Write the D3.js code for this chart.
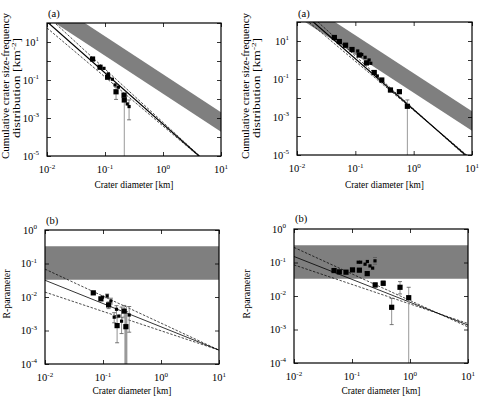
<!DOCTYPE html>
<html>
<head>
<meta charset="utf-8">
<script src="https://cdn.jsdelivr.net/npm/d3@7"></script>
<style>
  body { margin: 0; background: #fff; }
  text { font-family: "Liberation Serif", "Times New Roman", serif; fill: #000; }
</style>
</head>
<body>
<div id="wrapper"></div>
<script>
// ---- values ----
const xTickValues = [1e-2, 1e-1, 1e0, 1e1]
const cumTickValues = [1e2, 1e1, 1e0, 1e-1, 1e-2, 1e-3, 1e-4, 1e-5]
const cumTickLabels = [1e1, 1e-1, 1e-3, 1e-5]
const rTickValues = [1e0, 1e-1, 1e-2, 1e-3, 1e-4]

// saturation band, [D, low, high]
const bandCum = [[0.01, 190, 2000], [10, 1.9e-4, 2e-3]]
const bandR = [[0.01, 0.033, 0.33], [10, 0.033, 0.33]]

// fitted power laws, end points [D, value]
const leftCumFit = [[0.01, 117], [10, 9.65e-7]]
const leftCumFitHi = [[0.01, 241], [10, 9.26e-7]]
const leftCumFitLo = [[0.01, 54.6], [10, 1.0e-6]]
const rightCumFit = [[0.01, 564], [10, 5.04e-6]]
const rightCumFitHi = [[0.01, 1008], [10, 4.27e-6]]
const rightCumFitLo = [[0.01, 328], [10, 5.85e-6]]
const leftRFit = [[0.01, 0.0316], [10, 2.6e-4]]
const leftRFitHi = [[0.01, 0.068], [10, 2.6e-4]]
const leftRFitLo = [[0.01, 0.014], [10, 2.6e-4]]
const rightRFit = [[0.01, 0.151], [10, 1.35e-3]]
const rightRFitHi = [[0.01, 0.282], [10, 1.19e-3]]
const rightRFitLo = [[0.01, 0.0849], [10, 1.51e-3]]

// crater data [D km, value, low, high]  (low 0 = bar runs to axis)
const leftCumLarge = [
    [0.061, 1.27], [0.082, 0.47], [0.111, 0.14],
    [0.155, 0.024, 0.0095, 0.042], [0.213, 0.016], [0.215, 0.0089, 0, null],
]
const leftCumSmall = [
    [0.096, 0.41], [0.114, 0.21], [0.134, 0.11], [0.149, 0.055],
    [0.17, 0.042], [0.242, 0.0055], [0.26, 0.004, 0.0008, 0.0089],
]
const rightCumLarge = [
    [0.0437, 15.3], [0.0532, 9.4], [0.068, 6.0], [0.0877, 3.57],
    [0.117, 1.83], [0.155, 0.70], [0.211, 0.22], [0.284, 0.0885],
    [0.40, 0.0264, 0.021, 0.032], [0.569, 0.0215], [0.78, 0.00366, 0, 0.0079],
]
const rightCumSmall = [
    [0.110, 2.98], [0.129, 1.95], [0.147, 1.39], [0.172, 1.0],
    [0.184, 0.67], [0.238, 0.144],
]
const leftRLarge = [
    [0.068, 0.0133], [0.092, 0.0088], [0.125, 0.0058, 0.0045, 0.0071],
    [0.175, 0.0014, 0.00043, 0.0028], [0.232, 0.0038, 0.0025, 0.0056],
    [0.248, 0.0013, 0, 0.0037],
]
const leftRSmall = [
    [0.098, 0.0099], [0.118, 0.0108, 0.0095, 0.0122], [0.137, 0.0076, 0.0062, 0.0092],
    [0.156, 0.0025, 0.0017, 0.0034], [0.171, 0.0043, 0.0024, 0.0055], [0.188, 0.0027],
    [0.209, 0.0019, 0.00081, 0.005], [0.283, 0.0029, 0.00089, 0.0052],
]
const rightRLarge = [
    [0.049, 0.0574], [0.0604, 0.0525], [0.0788, 0.0514], [0.102, 0.0602],
    [0.134, 0.059], [0.183, 0.0466], [0.251, 0.0214, 0.0185, 0.0245],
    [0.345, 0.024, 0.0205, 0.028], [0.483, 0.0046, 0.0014, 0.0085],
    [0.673, 0.0182, 0.0115, 0.0269], [0.95, 0.0089, 0, 0.0182],
]
const rightRSmall = [
    [0.128, 0.102], [0.141, 0.102], [0.168, 0.089], [0.184, 0.107],
    [0.204, 0.079], [0.227, 0.068], [0.249, 0.112, 0.089, 0.141],
]

// ---- drawing ----
const width = 480
const height = 403

const svg = d3.select("#wrapper")
    .append("svg")
    .attr("width", width)
    .attr("height", height)

const exponent = v => Math.round(Math.log10(v))

function drawPanel(p) {
    const w = p.right - p.left
    const h = p.bottom - p.top
    const g = svg.append("g").attr("transform", `translate(${p.left},${p.top})`)

    const x = d3.scaleLog().domain([1e-2, 1e1]).range([0, w])
    const y = d3.scaleLog().domain(p.yDomain).range([h, 0])

    g.append("clipPath").attr("id", p.id)
        .append("rect").attr("width", w).attr("height", h)
    const plot = g.append("g").attr("clip-path", `url(#${p.id})`)

    // grey band
    const area = d3.area()
        .x(d => x(d[0]))
        .y0(d => y(d[1]))
        .y1(d => y(d[2]))
    plot.append("path").datum(p.band)
        .attr("d", area)
        .attr("fill", "#7f7f7f")

    // fit lines
    const line = d3.line().x(d => x(d[0])).y(d => y(d[1]))
    p.fitsDashed.forEach(f => {
        plot.append("path").datum(f).attr("d", line)
            .attr("fill", "none").attr("stroke", "#000")
            .attr("stroke-width", 0.7).attr("stroke-dasharray", "2.5,1.5")
    })
    plot.append("path").datum(p.fit).attr("d", line)
        .attr("fill", "none").attr("stroke", "#000")
        .attr("stroke-width", p.fitWidth)

    // error bars
    const allPts = p.large.concat(p.small)
    allPts.filter(d => d[2] != null).forEach(d => {
        const cx = x(d[0])
        const y0 = d[2] <= 0 ? h : y(d[2])
        const y1 = d[3] == null ? y(d[1]) : y(d[3])
        plot.append("line")
            .attr("x1", cx).attr("x2", cx).attr("y1", y0).attr("y2", y1)
            .attr("stroke", d[2] <= 0 ? "#999" : "#777")
            .attr("stroke-width", d[2] <= 0 ? p.floorWidth : 0.8)
        const caps = []
        if (d[2] > 0) caps.push(y0)
        if (d[3] != null) caps.push(y1)
        caps.forEach(cy => {
            plot.append("line")
                .attr("x1", cx - 2).attr("x2", cx + 2).attr("y1", cy).attr("y2", cy)
                .attr("stroke", "#555").attr("stroke-width", 0.8)
        })
    })

    // squares
    plot.selectAll(".big").data(p.large).join("rect")
        .attr("x", d => x(d[0]) - 2.6).attr("y", d => y(d[1]) - 2.6)
        .attr("width", 5.2).attr("height", 5.2).attr("fill", "#000")
    plot.selectAll(".small").data(p.small).join("rect")
        .attr("x", d => x(d[0]) - 1.6).attr("y", d => y(d[1]) - 1.6)
        .attr("width", 3.2).attr("height", 3.2).attr("fill", "#000")

    // ticks, inward on all four sides
    const tick = s => s.call(a => a.select(".domain").remove())
        .call(a => a.selectAll("line").attr("stroke", "#000").attr("stroke-width", 0.8))
    g.append("g").attr("transform", `translate(0,${h})`)
        .call(d3.axisBottom(x).tickValues(xTickValues).tickSize(-4).tickFormat("")).call(tick)
    g.append("g")
        .call(d3.axisTop(x).tickValues(xTickValues).tickSize(-4).tickFormat("")).call(tick)
    g.append("g")
        .call(d3.axisLeft(y).tickValues(p.yTicks).tickSize(-4).tickFormat("")).call(tick)
    g.append("g").attr("transform", `translate(${w},0)`)
        .call(d3.axisRight(y).tickValues(p.yTicks).tickSize(-4).tickFormat("")).call(tick)

    g.append("rect").attr("width", w).attr("height", h)
        .attr("fill", "none").attr("stroke", "#000").attr("stroke-width", 1.2)

    // tick labels 10^n
    const power = (sel, v) => {
        sel.append("tspan").text("10")
        sel.append("tspan").attr("dy", -4.5).attr("font-size", 7).text(exponent(v))
    }
    xTickValues.forEach(v => {
        g.append("text").attr("x", x(v)).attr("y", h + 17)
            .attr("text-anchor", "middle").attr("font-size", 10.5)
            .call(power, v)
    })
    p.yLabels.forEach(v => {
        g.append("text").attr("x", -8).attr("y", y(v) + 3.5)
            .attr("text-anchor", "end").attr("font-size", 10.5)
            .call(power, v)
    })

    // titles
    g.append("text").attr("x", w / 2).attr("y", p.xTitleY - p.top)
        .attr("text-anchor", "middle").attr("font-size", 11)
        .attr("textLength", 79).attr("lengthAdjust", "spacingAndGlyphs")
        .text("Crater diameter [km]")
    g.append("text").attr("x", 1).attr("y", p.tagY - p.top)
        .attr("font-size", 10.5).text(p.tag)

    p.yTitle.forEach((t, i) => {
        const tx = g.append("text")
            .attr("transform", `translate(${t.x - p.left},${t.y - p.top}) rotate(-90)`)
            .attr("text-anchor", "middle").attr("font-size", 10.5)
            .attr("textLength", t.len).attr("lengthAdjust", "spacingAndGlyphs")
        tx.append("tspan").text(t.text)
        if (t.sup) {
            tx.append("tspan").attr("dy", -4).attr("font-size", 7).text(t.sup)
            tx.append("tspan").attr("dy", 4).text("]")
        }
    })
}

const cumTitle = (x0) => [
    { text: "Cumulative crater size-frequency", x: x0, y: 86, len: 146 },
    { text: "distribution [km", sup: "-2", x: x0 + 11, y: 88, len: 100 },
]
const rTitle = (x0) => [{ text: "R-parameter", x: x0, y: 294, len: 49 }]

drawPanel({
    id: "c1", left: 47, right: 221, top: 23, bottom: 156,
    yDomain: [1e-5, 1e2], yTicks: cumTickValues, yLabels: cumTickLabels,
    band: bandCum, fit: leftCumFit, fitsDashed: [leftCumFitHi, leftCumFitLo], fitWidth: 1.2,
    large: leftCumLarge, small: leftCumSmall, floorWidth: 1,
    xTitleY: 188, tag: "(a)", tagY: 17, yTitle: cumTitle(9),
})
drawPanel({
    id: "c2", left: 297, right: 472, top: 22, bottom: 155,
    yDomain: [1e-5, 1e2], yTicks: cumTickValues, yLabels: cumTickLabels,
    band: bandCum, fit: rightCumFit, fitsDashed: [rightCumFitHi, rightCumFitLo], fitWidth: 1.2,
    large: rightCumLarge, small: rightCumSmall, floorWidth: 1,
    xTitleY: 188, tag: "(a)", tagY: 17, yTitle: cumTitle(249),
})
drawPanel({
    id: "c3", left: 45, right: 219, top: 230, bottom: 364,
    yDomain: [1e-4, 1e0], yTicks: rTickValues, yLabels: rTickValues,
    band: bandR, fit: leftRFit, fitsDashed: [leftRFitHi, leftRFitLo], fitWidth: 0.8,
    large: leftRLarge, small: leftRSmall, floorWidth: 3,
    xTitleY: 394, tag: "(b)", tagY: 224, yTitle: rTitle(10),
})
drawPanel({
    id: "c4", left: 294, right: 468, top: 229, bottom: 363,
    yDomain: [1e-4, 1e0], yTicks: rTickValues, yLabels: rTickValues,
    band: bandR, fit: rightRFit, fitsDashed: [rightRFitHi, rightRFitLo], fitWidth: 0.8,
    large: rightRLarge, small: rightRSmall, floorWidth: 1,
    xTitleY: 394, tag: "(b)", tagY: 222, yTitle: rTitle(250),
})
</script>
</body>
</html>
